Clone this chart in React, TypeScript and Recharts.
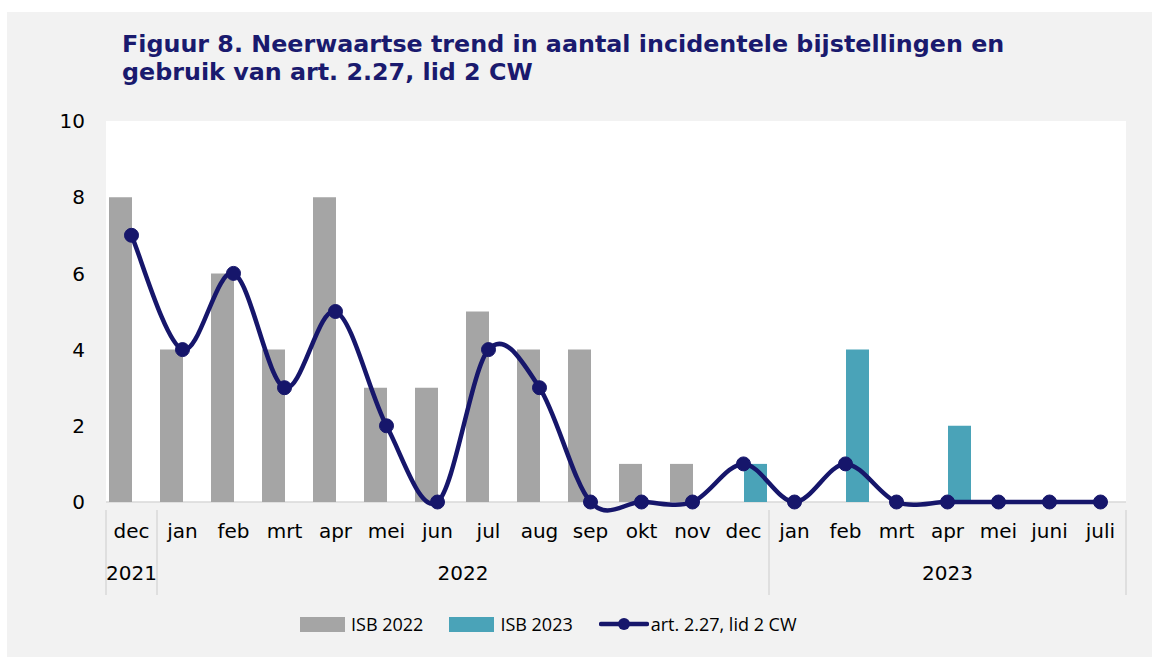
import { Bar, CartesianGrid, ComposedChart, Line, XAxis, YAxis } from 'recharts';

const months = ['dec', 'jan', 'feb', 'mrt', 'apr', 'mei', 'jun', 'jul', 'aug', 'sep', 'okt', 'nov', 'dec', 'jan', 'feb', 'mrt', 'apr', 'mei', 'juni', 'juli'];
const isb2022 = [8, 4, 6, 4, 8, 3, 3, 5, 4, 4, 1, 1, null, null, null, null, null, null, null, null];
const isb2023 = [null, null, null, null, null, null, null, null, null, null, null, null, 1, 0, 4, 0, 2, 0, 0, 0];
const art227 = [7, 4, 6, 3, 5, 2, 0, 4, 3, 0, 0, 0, 1, 0, 1, 0, 0, 0, 0, 0];
const yearGroups = [
  { label: '2021', start: 0, end: 0 },
  { label: '2022', start: 1, end: 12 },
  { label: '2023', start: 13, end: 19 },
];
const yTicks = [0, 2, 4, 6, 8, 10];

const data = months.map((m, i) => ({ month: m, isb2022: isb2022[i], isb2023: isb2023[i], art: art227[i] }));

const NAVY = '#16166b';
const GREY = '#a5a5a5';
const TEAL = '#4aa3b8';
const AXIS = '#d9d9d9';
const BAND = 51; // width of one category in px (1020 / 20)
const FONT = 'DejaVu Sans, Verdana, sans-serif';

// Excel-like smoothed line (Catmull-Rom as cubic beziers)
const excelCurve = (context: any) => {
  let pts: number[][] = [];
  return {
    areaStart() {},
    areaEnd() {},
    lineStart() {
      pts = [];
    },
    point(x: number, y: number) {
      pts.push([+x, +y]);
    },
    lineEnd() {
      if (!pts.length) return;
      context.moveTo(pts[0][0], pts[0][1]);
      for (let i = 0; i < pts.length - 1; i++) {
        const p0 = pts[i - 1] || pts[i];
        const p1 = pts[i];
        const p2 = pts[i + 1];
        const p3 = pts[i + 2] || p2;
        context.bezierCurveTo(
          p1[0] + (p2[0] - p0[0]) / 6,
          p1[1] + (p2[1] - p0[1]) / 6,
          p2[0] - (p3[0] - p1[0]) / 6,
          p2[1] - (p3[1] - p1[1]) / 6,
          p2[0],
          p2[1],
        );
      }
    },
  };
};

function MonthTick({ x, y, payload, index }: any) {
  const group = yearGroups.find((g) => g.start === index);
  const last = yearGroups.find((g) => g.end === index);
  return (
    <g>
      <text x={x} y={y + 21} textAnchor="middle" dominantBaseline="central" fontSize={20} fill="#000" fontFamily={FONT}>
        {payload.value}
      </text>
      {group && (
        <>
          <line x1={x - BAND / 2} x2={x - BAND / 2} y1={y} y2={y + 85} stroke={AXIS} strokeWidth={1.5} />
          <text
            x={x + ((group.end - group.start) * BAND) / 2}
            y={y + 63}
            textAnchor="middle"
            dominantBaseline="central"
            fontSize={20}
            fill="#000"
            fontFamily={FONT}
          >
            {group.label}
          </text>
        </>
      )}
      {last && last.end === months.length - 1 && (
        <line x1={x + BAND / 2} x2={x + BAND / 2} y1={y} y2={y + 85} stroke={AXIS} strokeWidth={1.5} />
      )}
    </g>
  );
}

function LegendBox({ color, label }: { color: string; label: string }) {
  return (
    <span style={{ display: 'inline-flex', alignItems: 'center', marginRight: 26 }}>
      <span style={{ width: 45, height: 15, background: color, marginRight: 6 }} />
      {label}
    </span>
  );
}

export default function App() {
  return (
    <div style={{ position: 'fixed', left: 0, top: 0, width: 1152, height: 657, background: '#fff' }}>
      <div style={{ position: 'absolute', left: 7, top: 12, width: 1145, height: 645, background: '#f2f2f2' }}>
        <div
          style={{
            position: 'absolute',
            left: 115,
            top: 18,
            color: '#1a1a6e',
            fontFamily: FONT,
            fontWeight: 'bold',
            fontSize: 23.8,
            lineHeight: '28px',
            whiteSpace: 'nowrap',
          }}
        >
          Figuur 8. Neerwaartse trend in aantal incidentele bijstellingen en
          <br />
          gebruik van art. 2.27, lid 2 CW
        </div>
        <ComposedChart
          width={1145}
          height={645}
          data={data}
          margin={{ top: 109, right: 26, bottom: 65, left: 0 }}
          barGap={0}
          barSize={23}
        >
          <CartesianGrid fill="#fff" horizontal={true} horizontalValues={[0]} vertical={false} stroke={AXIS} strokeWidth={1.5} />
          <XAxis dataKey="month" interval={0} tickLine={false} axisLine={false} tick={<MonthTick />} height={90} />
          <YAxis
            domain={[0, 10]}
            ticks={yTicks}
            width={99}
            axisLine={false}
            tickLine={false}
            tickMargin={15}
            tick={{ fontSize: 20, fill: '#000', fontFamily: FONT }}
          />
          <Bar dataKey="isb2022" name="ISB 2022" fill={GREY} isAnimationActive={false} />
          <Bar dataKey="isb2023" name="ISB 2023" fill={TEAL} isAnimationActive={false} />
          <Line
            dataKey="art"
            name="art. 2.27, lid 2 CW"
            type={excelCurve as any}
            stroke={NAVY}
            strokeWidth={4.5}
            dot={{ r: 7, fill: NAVY, stroke: NAVY, strokeWidth: 1 }}
            activeDot={false}
            isAnimationActive={false}
          />
        </ComposedChart>
        <div
          style={{
            position: 'absolute',
            left: 293,
            top: 600,
            display: 'flex',
            alignItems: 'center',
            fontFamily: '"Open Sans", sans-serif',
            fontSize: 18,
            color: '#000',
            whiteSpace: 'nowrap',
          }}
        >
          <LegendBox color={GREY} label="ISB 2022" />
          <LegendBox color={TEAL} label="ISB 2023" />
          <span style={{ display: 'inline-flex', alignItems: 'center' }}>
            <svg width={50} height={16} style={{ marginRight: 2 }}>
              <line x1={2} x2={48} y1={8} y2={8} stroke={NAVY} strokeWidth={4.5} strokeLinecap="round" />
              <circle cx={25} cy={8} r={6} fill={NAVY} />
            </svg>
            art. 2.27, lid 2 CW
          </span>
        </div>
      </div>
    </div>
  );
}
